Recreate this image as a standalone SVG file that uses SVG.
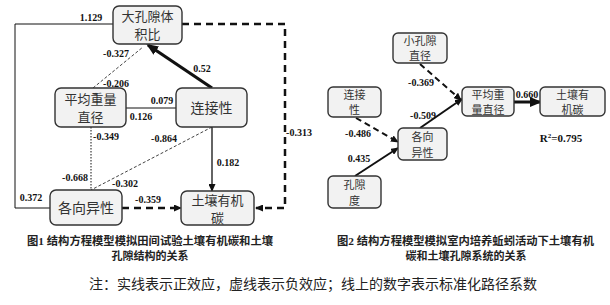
<svg xmlns="http://www.w3.org/2000/svg" width="610" height="305" viewBox="0 0 610 305">
<defs>
<style>
.box{fill:#f2f2f2;stroke:#333;stroke-width:1.4}
.t1{font-family:"Noto Sans CJK SC",sans-serif;font-size:13px;fill:#333;text-anchor:middle}
.t1s{font-family:"Noto Sans CJK SC",sans-serif;font-size:14px;fill:#333;text-anchor:middle}
.t2{font-family:"Noto Sans CJK SC",sans-serif;font-size:11px;fill:#333;text-anchor:middle}
.lb{font-family:"Liberation Serif",serif;font-size:10px;font-weight:bold;fill:#111;text-anchor:middle}
.cap{font-family:"Liberation Serif","Noto Sans CJK SC",serif;font-size:11px;font-weight:bold;fill:#222}
.note{font-family:"Noto Sans CJK SC",sans-serif;font-size:14px;fill:#222;text-anchor:middle}
.ln{fill:none;stroke:#111}
</style>
<marker id="aS" markerUnits="userSpaceOnUse" markerWidth="8" markerHeight="7" refX="7" refY="3.5" orient="auto"><path d="M0,0 L8,3.5 L0,7 Z" fill="#111"/></marker>
<marker id="aL" markerUnits="userSpaceOnUse" markerWidth="12" markerHeight="10" refX="10" refY="5" orient="auto"><path d="M0,0 L12,5 L0,10 Z" fill="#111"/></marker>
</defs>
<rect width="610" height="305" fill="#fff"/>

<g id="connectors">
<polyline class="ln" points="113,24 15,24 15,208 50,208" stroke="#555" stroke-width="1"/>
<polyline class="ln" points="182,24 285,24 285,208 256,208" stroke-width="2.5" stroke-dasharray="7,5" marker-end="url(#aS)"/>
<line class="ln" x1="93" y1="88" x2="143" y2="47" stroke="#777" stroke-width="0.8" stroke-dasharray="3,2"/>
<line class="ln" x1="212" y1="88" x2="148" y2="45" stroke-width="3.2" marker-end="url(#aL)"/>
<line class="ln" x1="126" y1="108" x2="176" y2="108" stroke="#444" stroke-width="1"/>
<line class="ln" x1="91" y1="127" x2="91" y2="190" stroke="#555" stroke-width="1" stroke-dasharray="1.5,1.5"/>
<line class="ln" x1="212" y1="127" x2="91" y2="190" stroke="#777" stroke-width="0.8" stroke-dasharray="3,2"/>
<line class="ln" x1="212" y1="127" x2="212" y2="191" stroke-width="1.3" marker-end="url(#aS)"/>
<line class="ln" x1="122" y1="208" x2="181" y2="208" stroke-width="2.5" stroke-dasharray="7,5" marker-end="url(#aS)"/>

<line class="ln" x1="420" y1="64" x2="461" y2="100" stroke-width="2" stroke-dasharray="6,4" marker-end="url(#aS)"/>
<line class="ln" x1="420" y1="128" x2="462" y2="99" stroke-width="2" marker-end="url(#aS)"/>
<line class="ln" x1="514" y1="102" x2="540" y2="102" stroke-width="3" marker-end="url(#aL)"/>
<line class="ln" x1="356" y1="118" x2="398" y2="142" stroke-width="2" stroke-dasharray="6,4" marker-end="url(#aS)"/>
<line class="ln" x1="355" y1="176" x2="398" y2="148" stroke-width="2" marker-end="url(#aS)"/>
</g>

<g id="edge-labels">
<text class="lb" x="91" y="21">1.129</text>
<text class="lb" x="116" y="57">-0.327</text>
<text class="lb" x="116" y="87">-0.206</text>
<text class="lb" x="202" y="72">0.52</text>
<text class="lb" x="162" y="104">0.079</text>
<text class="lb" x="141" y="120">0.126</text>
<text class="lb" x="106" y="140">-0.349</text>
<text class="lb" x="164" y="142">-0.864</text>
<text class="lb" x="228" y="166">0.182</text>
<text class="lb" x="75" y="181">-0.668</text>
<text class="lb" x="125" y="187">-0.302</text>
<text class="lb" x="31" y="201">0.372</text>
<text class="lb" x="148" y="203">-0.359</text>
<text class="lb" x="299" y="136">-0.313</text>
<text class="lb" x="421" y="86">-0.369</text>
<text class="lb" x="423" y="119">-0.509</text>
<text class="lb" x="527" y="98">0.660</text>
<text class="lb" x="358" y="137">-0.486</text>
<text class="lb" x="359" y="162">0.435</text>
<text class="lb" x="561" y="142" style="font-size:11px">R<tspan font-size="7" dy="-4">2</tspan><tspan dy="4">=0.795</tspan></text>
</g>

<g id="n-dkxtjb"><rect class="box" x="113" y="6" width="69" height="38" rx="6"/><text class="t1" x="147.5" y="21">大孔隙体<tspan x="147.5" dy="18">积比</tspan></text></g>
<g id="n-pjzlzj1"><rect class="box" x="55" y="88" width="71" height="39" rx="6"/><text class="t1" x="90.5" y="103.5">平均重量<tspan x="90.5" dy="18">直径</tspan></text></g>
<g id="n-ljx1"><rect class="box" x="176" y="88" width="71" height="39" rx="6"/><text class="t1s" x="211.5" y="113">连接性</text></g>
<g id="n-gxyx1"><rect class="box" x="50" y="190" width="72" height="35" rx="6"/><text class="t1s" x="86" y="213">各向异性</text></g>
<g id="n-trjt1"><rect class="box" x="181" y="191" width="73" height="34" rx="6"/><text class="t1" x="217.5" y="204.5">土壤有机<tspan x="217.5" dy="18">碳</tspan></text></g>

<g id="n-xkxzj"><rect class="box" x="393" y="33" width="54" height="30" rx="5"/><text class="t2" x="420" y="45">小孔隙<tspan x="420" dy="15">直径</tspan></text></g>
<g id="n-ljx2"><rect class="box" x="328" y="87" width="53" height="30" rx="5"/><text class="t2" x="354.5" y="99">连接<tspan x="354.5" dy="15">性</tspan></text></g>
<g id="n-pjzlzj2"><rect class="box" x="462" y="87" width="52" height="29" rx="5"/><text class="t2" x="488" y="99">平均重<tspan x="488" dy="15">量直径</tspan></text></g>
<g id="n-trjt2"><rect class="box" x="540" y="87" width="65" height="29" rx="5"/><text class="t2" x="572.5" y="99">土壤有<tspan x="572.5" dy="15">机碳</tspan></text></g>
<g id="n-gxyx2"><rect class="box" x="398" y="128" width="49" height="32" rx="5"/><text class="t2" x="422.5" y="141">各向<tspan x="422.5" dy="15.5">异性</tspan></text></g>
<g id="n-kxd"><rect class="box" x="328" y="176" width="53" height="32" rx="5"/><text class="t2" x="354.5" y="189">孔隙<tspan x="354.5" dy="15.5">度</tspan></text></g>

<g id="captions">
<text class="cap" x="27" y="245" textLength="246" lengthAdjust="spacingAndGlyphs">图1  结构方程模型模拟田间试验土壤有机碳和土壤</text>
<text class="cap" x="150" y="260" text-anchor="middle">孔隙结构的关系</text>
<text class="cap" x="337" y="245" textLength="257" lengthAdjust="spacingAndGlyphs">图2  结构方程模型模拟室内培养蚯蚓活动下土壤有机</text>
<text class="cap" x="466" y="260" text-anchor="middle">碳和土壤孔隙系统的关系</text>
<text class="note" x="313" y="289">注：实线表示正效应，虚线表示负效应；线上的数字表示标准化路径系数</text>
</g>
</svg>
